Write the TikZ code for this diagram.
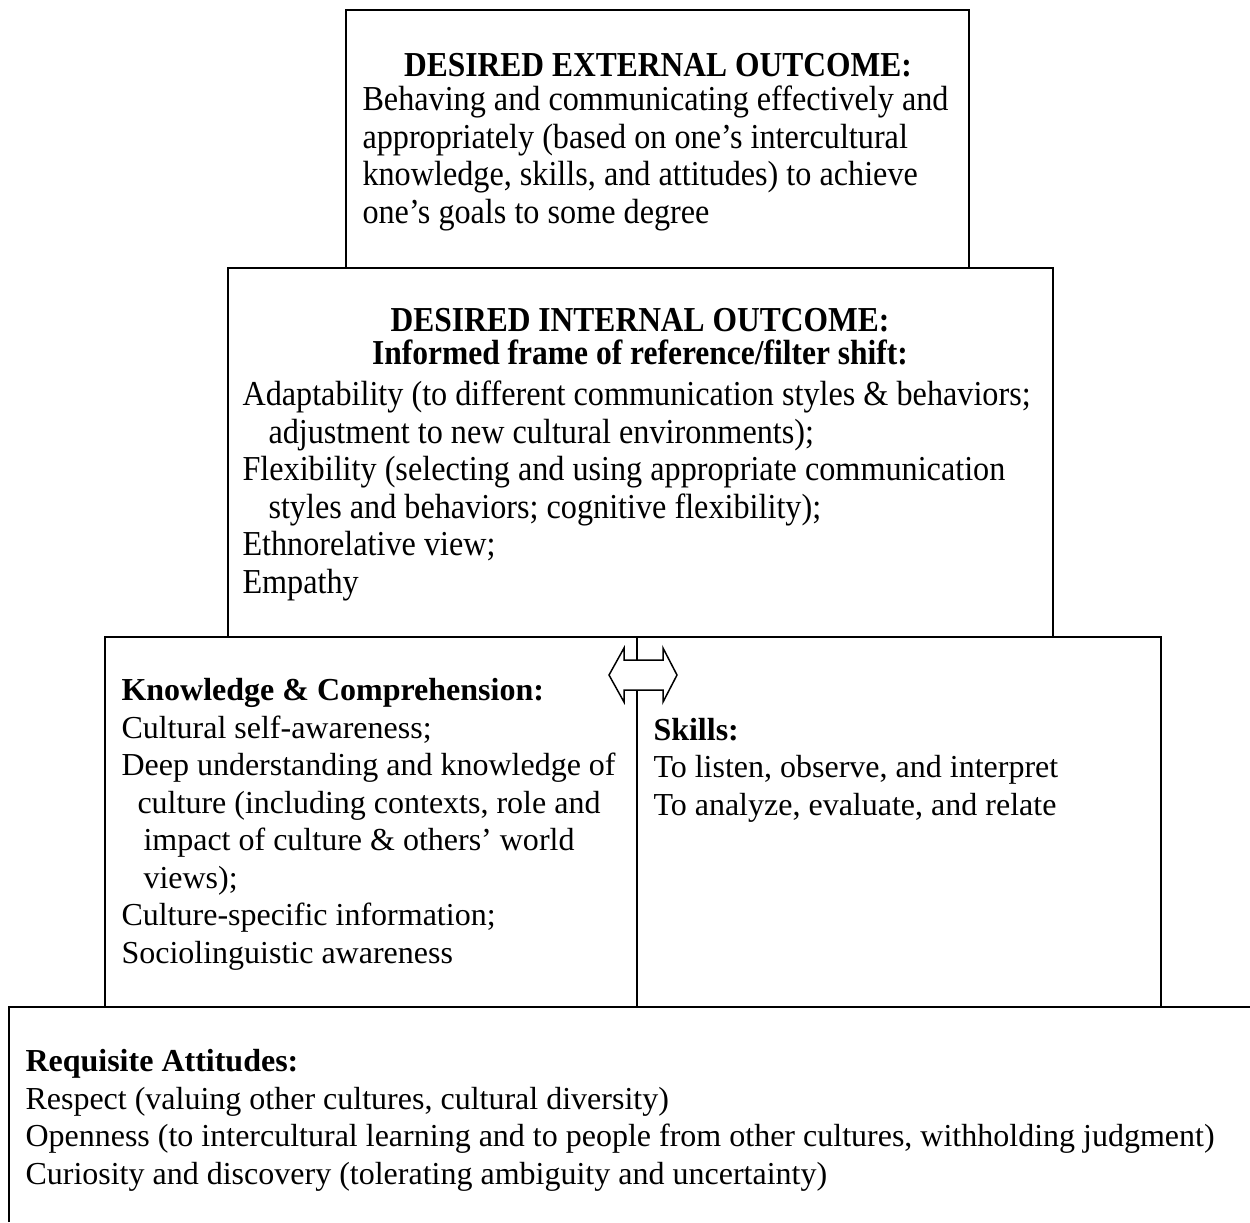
\documentclass[tikz,border=0pt]{standalone}
\usepackage{fontspec}
\setmainfont{Liberation Serif}
\newfontfamily\narrowfont[FakeStretch=0.92]{Liberation Serif}
\newfontfamily\narrowheadfont[FakeStretch=0.9]{Liberation Serif}
\usetikzlibrary{positioning}
\tikzset{
box/.style={draw, line width=0.8pt}, % frame of each level
body/.style={anchor=base west, align=left, inner sep=0pt, font=\fontsize{12.8}{15}\selectfont}, % placed by its last line
narrowbody/.style={body, font=\narrowfont\fontsize{14}{15}\selectfont},
narrowhead/.style={anchor=base, inner sep=0pt, font=\narrowheadfont\bfseries\fontsize{14}{15}\selectfont},
}
\begin{document}
\begin{tikzpicture}[x=0.4pt, y=-0.4pt]
    \useasboundingbox (0,0) rectangle (1250,1222);
    % levels of the pyramid
    \draw[box] (346,10) rectangle (969,268);
    \draw[box] (228,268) rectangle (1053,637);
    \draw[box] (105,637) rectangle (1161,1007);
    \draw[box] (637,637) -- (637,1007);
    \draw[box] (9,1222) |- (1250,1007);
    % two-way arrow between knowledge and skills
    \draw[box, line width=0.6pt, fill=white] (609,675) -- (624,648) -- (624,660) -- (663,660) -- (663,648)
        -- (677,675) -- (663,702) -- (663,690) -- (624,690) -- (624,702) -- cycle;
    % external outcome
    \node[narrowhead] (exthead) at (658,76) {DESIRED EXTERNAL OUTCOME:};
    \node[narrowbody] (exttext) at (362,223) {Behaving and communicating effectively and\\
        appropriately (based on one’s intercultural\\
        knowledge, skills, and attitudes) to achieve\\
        one’s goals to some degree};
    % internal outcome
    \node[narrowhead] (inthead) at (640,331) {DESIRED INTERNAL OUTCOME:};
    \node[narrowhead] (intsub) at (640,364) {Informed frame of reference/filter shift:};
    \node[narrowbody] (inttext) at (242,593) {Adaptability (to different communication styles \& behaviors;\\
        \hspace*{10.4pt}adjustment to new cultural environments);\\
        Flexibility (selecting and using appropriate communication\\
        \hspace*{10.4pt}styles and behaviors; cognitive flexibility);\\
        Ethnorelative view;\\
        Empathy};
    % knowledge and skills
    \node[body] (knowtext) at (121,963) {\textbf{Knowledge \& Comprehension:}\\
        Cultural self-awareness;\\
        Deep understanding and knowledge of\\
        \hspace*{6.4pt}culture (including contexts, role and\\
        \hspace*{8.8pt}impact of culture \& others’ world\\
        \hspace*{8.8pt}views);\\
        Culture-specific information;\\
        Sociolinguistic awareness};
    \node[body] (skilltext) at (653,815) {\textbf{Skills:}\\
        To listen, observe, and interpret\\
        To analyze, evaluate, and relate};
    % attitudes
    \node[body] (atttext) at (25,1184) {\textbf{Requisite Attitudes:}\\
        Respect (valuing other cultures, cultural diversity)\\
        Openness (to intercultural learning and to people from other cultures, withholding judgment)\\
        Curiosity and discovery (tolerating ambiguity and uncertainty)};
\end{tikzpicture}
\end{document}
